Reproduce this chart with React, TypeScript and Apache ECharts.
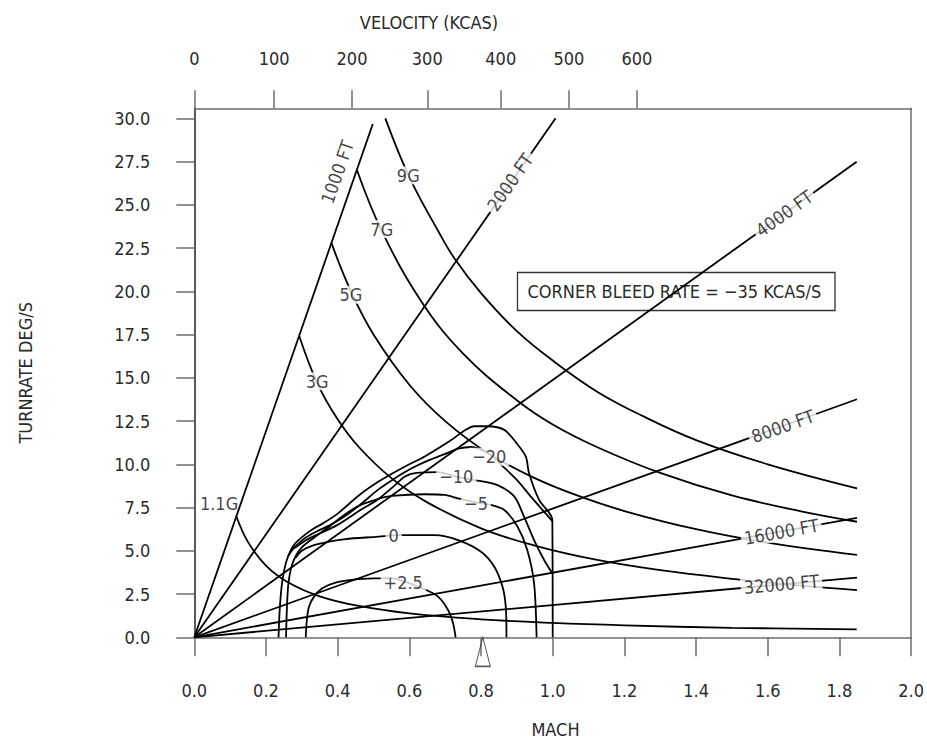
import React, { useEffect, useRef } from "react";
import * as echarts from "echarts";

// ---------- data ----------
const machTicks = [0, 0.2, 0.4, 0.6, 0.8, 1.0, 1.2, 1.4, 1.6, 1.8, 2.0];
const rateTicks = [0, 2.5, 5, 7.5, 10, 12.5, 15, 17.5, 20, 22.5, 25, 27.5, 30];
const kcasLabels = ["0", "100", "200", "300", "400", "500", "600"];
const kcasMach = [0, 0.2226, 0.44, 0.65, 0.855, 1.045, 1.235];

// constant turn radius lines (Mach, deg/s)
const ft1000 = [[0, 0], [0.498, 29.67]];
const ft2000 = [[0, 0], [1.008, 30.0]];
const ft4000 = [[0, 0], [1.848, 27.49]];
const ft8000 = [[0, 0], [1.849, 13.76]];
const ft16000 = [[0, 0], [1.849, 6.91]];
const ft32000 = [[0, 0], [1.849, 3.45]];

// load factor curves
const g9 = [[0.533, 30.0], [0.6, 26.6], [0.68, 23.5], [0.726, 21.9], [0.8, 19.9], [0.9, 17.7], [1.0, 16.0], [1.124, 14.2], [1.25, 12.8], [1.4, 11.4], [1.6, 10.0], [1.849, 8.61]];
const g7 = [[0.454, 27.0], [0.523, 23.5], [0.634, 19.4], [0.75, 16.4], [0.9, 13.7], [1.0, 12.3], [1.123, 11.0], [1.3, 9.5], [1.5, 8.2], [1.7, 7.25], [1.849, 6.68]];
const g5 = [[0.383, 22.77], [0.437, 20.0], [0.5, 17.5], [0.6, 14.6], [0.7, 12.5], [0.823, 10.6], [0.95, 9.2], [1.068, 8.2], [1.2, 7.3], [1.4, 6.25], [1.6, 5.47], [1.849, 4.76]];
const g3 = [[0.293, 17.4], [0.343, 14.7], [0.4, 12.6], [0.459, 11.0], [0.55, 9.2], [0.65, 7.8], [0.8, 6.3], [0.95, 5.3], [1.124, 4.47], [1.3, 3.88], [1.516, 3.35], [1.7, 2.97], [1.849, 2.73]];
const g11 = [[0.117, 7.01], [0.15, 5.5], [0.2, 4.15], [0.26, 3.2], [0.35, 2.37], [0.459, 1.81], [0.6, 1.38], [0.8, 1.04], [1.0, 0.83], [1.2, 0.69], [1.5, 0.55], [1.848, 0.46]];

// bleed-rate contours and the lift-limit envelope
const envelope = [[0.235, 0], [0.238, 1.5], [0.244, 3.0], [0.252, 4.0], [0.262, 4.7], [0.275, 5.25], [0.29, 5.6], [0.31, 5.95], [0.33, 6.25], [0.36, 6.6], [0.4, 7.15], [0.459, 8.2], [0.514, 9.0], [0.551, 9.45], [0.6, 10.0], [0.643, 10.45], [0.717, 11.4], [0.75, 11.9], [0.781, 12.2], [0.818, 12.2], [0.865, 11.99], [0.9, 11.2], [0.925, 10.44], [0.934, 9.48], [0.962, 7.94], [0.999, 6.78], [1.0, 0]];
const c20 = [[0.262, 4.7], [0.275, 5.1], [0.29, 5.4], [0.31, 5.75], [0.34, 6.1], [0.38, 6.5], [0.42, 7.0], [0.459, 7.6], [0.514, 8.55], [0.56, 9.2], [0.6, 9.7], [0.65, 10.2], [0.7, 10.6], [0.736, 10.9], [0.773, 11.0], [0.823, 10.6], [0.86, 9.9], [0.9, 9.1], [0.939, 8.13], [0.97, 7.4], [0.999, 6.72]];
const c10 = [[0.275, 5.1], [0.29, 5.3], [0.31, 5.6], [0.35, 6.0], [0.4, 6.5], [0.459, 7.3], [0.514, 8.0], [0.56, 8.8], [0.588, 9.3], [0.62, 9.5], [0.68, 9.55], [0.731, 9.28], [0.782, 9.09], [0.846, 8.8], [0.893, 8.13], [0.92, 6.97], [0.948, 5.62], [0.976, 4.47], [0.999, 3.7]];
const c5 = [[0.256, 0], [0.258, 1.5], [0.262, 3.0], [0.27, 4.0], [0.283, 4.7], [0.3, 5.2], [0.33, 5.7], [0.37, 6.3], [0.42, 7.1], [0.459, 7.6], [0.514, 8.0], [0.551, 8.17], [0.643, 8.27], [0.699, 8.23], [0.736, 8.03], [0.786, 7.8], [0.828, 7.65], [0.865, 7.36], [0.902, 6.39], [0.929, 5.05], [0.948, 3.12], [0.955, 0]];
const c0 = [[0.283, 4.6], [0.3, 5.0], [0.33, 5.3], [0.38, 5.55], [0.422, 5.68], [0.514, 5.82], [0.556, 5.9], [0.588, 5.91], [0.671, 5.91], [0.736, 5.62], [0.8, 4.95], [0.837, 4.08], [0.86, 2.92], [0.869, 1.77], [0.871, 0]];
const c25 = [[0.311, 0], [0.314, 1.0], [0.32, 1.77], [0.334, 2.35], [0.357, 2.83], [0.394, 3.16], [0.45, 3.35], [0.514, 3.41], [0.55, 3.42], [0.583, 3.25], [0.643, 2.77], [0.68, 2.35], [0.708, 1.58], [0.722, 0.81], [0.729, 0]];

const cornerMach = [0.805];

// labels: text, Mach, rate
const lineLabels = [
  { text: "1000 FT", mach: 0.399, rate: 26.9 },
  { text: "2000 FT", mach: 0.881, rate: 26.3 },
  { text: "4000 FT", mach: 1.646, rate: 24.5 },
  { text: "8000 FT", mach: 1.642, rate: 12.2 },
  { text: "16000 FT", mach: 1.638, rate: 6.1 },
  { text: "32000 FT", mach: 1.638, rate: 3.07 },
  { text: "9G", mach: 0.597, rate: 26.7 },
  { text: "7G", mach: 0.523, rate: 23.6 },
  { text: "5G", mach: 0.437, rate: 19.8 },
  { text: "3G", mach: 0.343, rate: 14.8 },
  { text: "1.1G", mach: 0.069, rate: 7.75 },
  { text: "\u221220", mach: 0.823, rate: 10.44 },
  { text: "\u221210", mach: 0.731, rate: 9.28 },
  { text: "\u22125", mach: 0.786, rate: 7.75 },
  { text: "0", mach: 0.556, rate: 5.91 },
  { text: "+2.5", mach: 0.583, rate: 3.16 },
];
const boxText = "CORNER BLEED RATE = \u221235 KCAS/S";

// ---------- styles ----------
const FONT = "'DejaVu Sans Condensed', 'Liberation Sans Narrow', sans-serif";
const FS = 18;
const TXT = "#2a2a2a";
const AX = "#6e6e6e";
const labelRotate: Record<string, number> = {
  "1000 FT": 70.7, "2000 FT": 55, "4000 FT": 35.5, "8000 FT": 19.6, "16000 FT": 10.2, "32000 FT": 5.1,
};
const noBg: Record<string, boolean> = { "1000 FT": true, "1.1G": true };

export default function App() {
  const ref = useRef<HTMLDivElement>(null);
  useEffect(() => {
    if (!ref.current) return;
    const chart = echarts.init(ref.current, undefined, { renderer: "svg" });
    const lineSeries = (data: number[][], smooth: boolean | number = false) => ({
      type: "line",
      data,
      showSymbol: false,
      smooth,
      lineStyle: { color: "#000", width: 1.8 },
      z: 3,
      silent: true,
    });
    const axisLineStyle = { color: AX, width: 1.5 };
    const option: any = {
      animation: false,
      backgroundColor: "#fff",
      textStyle: { fontFamily: FONT },
      grid: { left: 194.3, right: 10.3, top: 108.3, bottom: 102.7 },
      xAxis: [
        {
          type: "value", position: "bottom", min: 0, max: 2, interval: 0.2,
          axisLine: { onZero: false, lineStyle: axisLineStyle },
          axisTick: { length: 19, lineStyle: axisLineStyle },
          axisLabel: { margin: 44, fontSize: FS, color: TXT, fontFamily: FONT, formatter: (v: number) => v.toFixed(1), showMinLabel: true, showMaxLabel: true },
          splitLine: { show: false },
        },
        {
          type: "value", position: "top", min: 0, max: 2,
          axisLine: { show: true, onZero: false, lineStyle: axisLineStyle },
          axisTick: { show: true, length: 18, customValues: kcasMach, lineStyle: axisLineStyle },
          axisLabel: {
            margin: 41, fontSize: FS, color: TXT, fontFamily: FONT, customValues: kcasMach,
            formatter: (v: number) => {
              let best = 0;
              kcasMach.forEach((m, i) => { if (Math.abs(m - v) < Math.abs(kcasMach[best] - v)) best = i; });
              return kcasLabels[best];
            },
          },
          splitLine: { show: false },
        },
      ],
      yAxis: [
        {
          type: "value", position: "left", min: 0, max: 30.58,
          axisLine: { show: true, onZero: false, lineStyle: { color: "#222", width: 1.5 } },
          axisTick: { show: true, length: 18, customValues: rateTicks, lineStyle: axisLineStyle },
          axisLabel: { margin: 44, fontSize: FS, color: TXT, fontFamily: FONT, customValues: rateTicks, formatter: (v: number) => v.toFixed(1) },
          splitLine: { show: false },
          name: "TURNRATE DEG/S", nameLocation: "middle", nameGap: 160,
          nameTextStyle: { fontSize: FS, color: TXT, fontFamily: FONT },
        },
        {
          type: "value", position: "right", min: 0, max: 30.58,
          axisLine: { show: true, onZero: false, lineStyle: axisLineStyle },
          axisTick: { show: false }, axisLabel: { show: false }, splitLine: { show: false },
        },
      ],
      graphic: [
        {
          type: "text", x: 429, y: 22,
          style: { text: "VELOCITY (KCAS)", fontSize: FS, fill: TXT, fontFamily: FONT, align: "center", verticalAlign: "middle" },
        },
        {
          type: "text", x: 555.5, y: 729,
          style: { text: "MACH", fontSize: FS, fill: TXT, fontFamily: FONT, align: "center", verticalAlign: "middle" },
        },
        {
          type: "group", x: 517.5, y: 272.5, z: 50,
          children: [
            { type: "rect", shape: { x: 0, y: 0, width: 317.5, height: 38 }, style: { fill: "#fff", stroke: "#333", lineWidth: 1.3 } },
            { type: "text", x: 10, y: 19, style: { text: boxText, fontSize: FS, fill: TXT, fontFamily: FONT, verticalAlign: "middle" } },
          ],
        },
      ],
      series: [
        lineSeries(ft1000), lineSeries(ft2000), lineSeries(ft4000), lineSeries(ft8000), lineSeries(ft16000), lineSeries(ft32000),
        lineSeries(g9, 0.4), lineSeries(g7, 0.4), lineSeries(g5, 0.4), lineSeries(g3, 0.4), lineSeries(g11, 0.4),
        lineSeries(envelope, 0.3), lineSeries(c20, 0.3), lineSeries(c10, 0.3), lineSeries(c5, 0.3), lineSeries(c0, 0.3), lineSeries(c25, 0.3),
        {
          type: "scatter", z: 10, silent: true, clip: false,
          symbolSize: 0,
          data: lineLabels.map((l) => ({
            value: [l.mach, l.rate],
            label: {
              show: true, position: "inside", formatter: l.text,
              rotate: labelRotate[l.text] || 0,
              fontSize: FS, color: "#111", fontFamily: FONT,
              backgroundColor: noBg[l.text] ? "transparent" : "#fff",
              padding: [0, 3],
            },
          })),
        },
        {
          type: "scatter", z: 10, silent: true, clip: false,
          symbol: "triangle", symbolSize: [15, 29], symbolOffset: [0, 14.5],
          itemStyle: { color: "rgba(0,0,0,0)", borderColor: "#333", borderWidth: 1.3 },
          data: cornerMach.map((m) => [m, 0]),
        },
      ],
    };
    chart.setOption(option);
    return () => chart.dispose();
  }, []);
  return <div ref={ref} style={{ width: 927, height: 740, position: "absolute", left: 0, top: 0 }} />;
}
